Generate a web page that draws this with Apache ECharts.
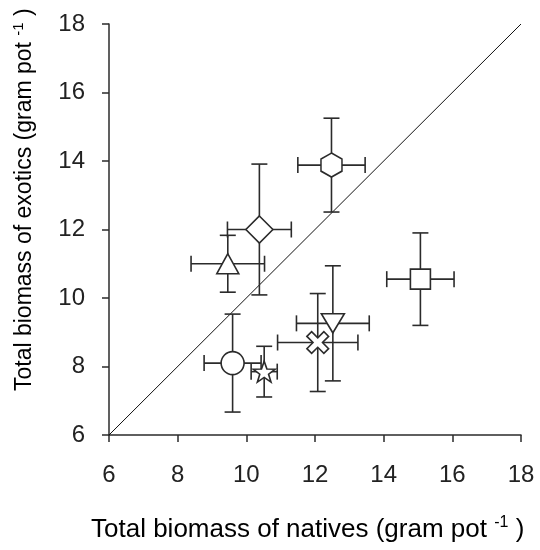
<!DOCTYPE html>
<html lang="en">
<head>
  <meta charset="UTF-8">
  <title>Exotics vs natives biomass</title>
  <script src="https://cdn.jsdelivr.net/npm/echarts@6/dist/echarts.min.js"></script>
  <style>
    html, body { margin: 0; padding: 0; background: white; }
    #chart { width: 540px; height: 550px; }
  </style>
</head>
<body>
<div id="chart"></div>
<script>
  // values
  const natives = [9.60, 10.52, 12.08, 12.52, 15.07, 10.38, 9.46, 12.48];
  const exotics = [8.10, 7.85, 8.70, 9.26, 10.55, 12.00, 11.00, 13.88];
  const nativesErr = [0.83, 0.38, 1.17, 1.06, 0.98, 0.93, 1.07, 0.98];
  const exoticsErr = [1.43, 0.74, 1.43, 1.68, 1.35, 1.91, 0.83, 1.37];
  const oneToOne = [[6, 6], [18, 18]];
  const ticks = [6, 8, 10, 12, 14, 16, 18];

  const starPath = "path://M5,0 L6.176,3.382 L9.755,3.455 L6.902,5.618 L7.939,9.045 L5,7 L2.061,9.045 L3.098,5.618 L0.245,3.455 L3.824,3.382 Z";
  const crossPath = "path://M3.6,0 L6.4,0 L6.4,3.6 L10,3.6 L10,6.4 L6.4,6.4 L6.4,10 L3.6,10 L3.6,6.4 L0,6.4 L0,3.6 L3.6,3.6 Z";
  const hexPath = "path://M5,0 L9.33,2.5 L9.33,7.5 L5,10 L0.67,7.5 L0.67,2.5 Z";

  // marker style per point
  const symbols = ["circle", starPath, crossPath, "triangle", "rect", "diamond", "triangle", hexPath];
  const sizes = [[23, 23], [22, 21], [24, 24], [23, 19], [20, 20], [27, 27], [22, 20], [21, 24]];
  const rotates = [0, 0, 45, 180, 0, 0, 0, 0];

  const ink = "#2b2b2b";
  const cap = 8;

  const points = natives.map((x, i) => ({
    value: [x, exotics[i]],
    symbol: symbols[i],
    symbolSize: sizes[i],
    symbolRotate: rotates[i]
  }));
  const errData = natives.map((x, i) => [x, exotics[i], nativesErr[i], exoticsErr[i]]);

  function renderErr(params, api) {
    const x = api.value(0), y = api.value(1), ex = api.value(2), ey = api.value(3);
    const c = api.coord([x, y]);
    const l = api.coord([x - ex, y]), r = api.coord([x + ex, y]);
    const t = api.coord([x, y + ey]), b = api.coord([x, y - ey]);
    const style = { stroke: ink, lineWidth: 1.6 };
    const seg = (x1, y1, x2, y2) => ({ type: "line", shape: { x1, y1, x2, y2 }, style });
    return {
      type: "group",
      children: [
        seg(l[0], c[1], r[0], c[1]),
        seg(c[0], t[1], c[0], b[1]),
        seg(l[0], c[1] - cap, l[0], c[1] + cap),
        seg(r[0], c[1] - cap, r[0], c[1] + cap),
        seg(c[0] - cap, t[1], c[0] + cap, t[1]),
        seg(c[0] - cap, b[1], c[0] + cap, b[1])
      ]
    };
  }

  const font = "Liberation Sans, Arial, sans-serif";
  const axisCommon = {
    type: "value",
    min: ticks[0],
    max: ticks[ticks.length - 1],
    interval: 2,
    splitLine: { show: false },
    axisLine: { onZero: false, lineStyle: { color: ink, width: 1.5 } },
    axisTick: { length: 7, lineStyle: { color: ink, width: 1.5 } },
    axisLabel: { color: "#222", fontSize: 24, fontFamily: font, margin: 24 }
  };

  const richX = {
    t: { fontSize: 26, fontFamily: font, color: "#222" },
    s: { fontSize: 16, fontFamily: font, color: "#222", padding: [0, 0, 14, 0] }
  };
  const richY = {
    t: { fontSize: 23, fontFamily: font, color: "#222" },
    s: { fontSize: 15, fontFamily: font, color: "#222", padding: [0, 0, 13, 0] }
  };

  const chart = echarts.init(document.getElementById("chart"));
  chart.setOption({
    animation: false,
    backgroundColor: "#fff",
    grid: { left: 109, right: 19, top: 24, bottom: 115 },
    xAxis: Object.assign({}, axisCommon, {
      axisLabel: Object.assign({}, axisCommon.axisLabel, { margin: 28 })
    }),
    yAxis: axisCommon,
    graphic: [
      {
        type: "text", left: 91, top: 515,
        style: { text: "{t|Total biomass of natives (gram pot }{s|-1}{t| )}", rich: richX }
      },
      {
        type: "text", x: 11, y: 391, rotation: Math.PI / 2,
        style: { text: "{t|Total biomass of exotics (gram pot }{s|-1}{t| )}", rich: richY }
      }
    ],
    series: [
      {
        type: "line",
        data: oneToOne,
        symbol: "none",
        lineStyle: { color: "#111", width: 1 },
        z: 1
      },
      {
        type: "custom",
        data: errData,
        renderItem: renderErr,
        z: 2
      },
      {
        type: "scatter",
        data: points,
        itemStyle: { color: "#fff", borderColor: ink, borderWidth: 1.6, opacity: 1 },
        z: 3
      }
    ]
  });
</script>
</body>
</html>
